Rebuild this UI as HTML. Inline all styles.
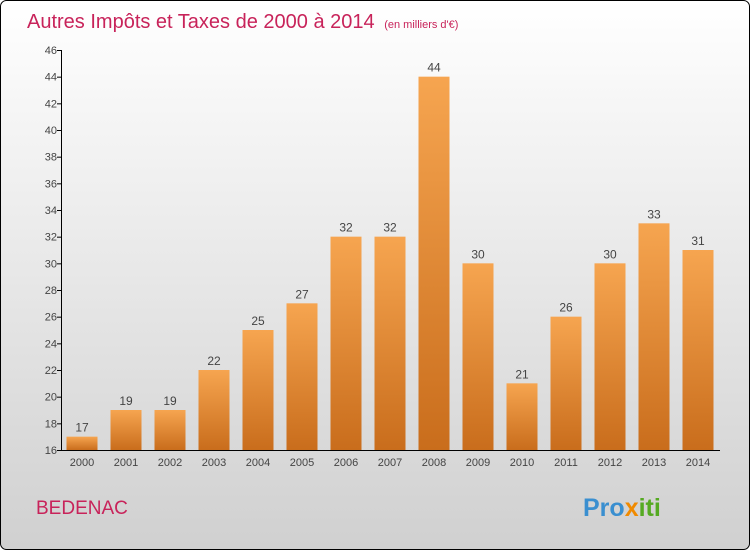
<!DOCTYPE html>
<html><head><meta charset="utf-8"><style>
body{margin:0;width:750px;height:550px;overflow:hidden}
</style></head><body>
<svg width="750" height="550" xmlns="http://www.w3.org/2000/svg" font-family="Liberation Sans, sans-serif">
<defs>
<linearGradient id="bg" x1="0" y1="0" x2="0" y2="1"><stop offset="0" stop-color="#ffffff"/><stop offset="1" stop-color="#d0d0d0"/></linearGradient>
<linearGradient id="bar" x1="0" y1="0" x2="0" y2="1"><stop offset="0" stop-color="#f6a550"/><stop offset="1" stop-color="#c96d1c"/></linearGradient>
</defs>
<rect x="0.5" y="0.5" width="749" height="549" rx="6" fill="url(#bg)" stroke="#000"/>
<text x="27" y="28" font-size="20" fill="#c8235a">Autres Impôts et Taxes de 2000 à 2014 <tspan font-size="11" dx="4">(en milliers d'€)</tspan></text>
<text x="36" y="514" font-size="19" fill="#c8235a">BEDENAC</text>
<text x="583" y="516" font-size="25" font-weight="bold" fill="#3a8fd0">Pro<tspan fill="#f08a00">x</tspan><tspan fill="#55aa22">iti</tspan></text>
<g id="axes"></g>
<g id="bars"></g>
</svg>
<script>
const categories=["2000","2001","2002","2003","2004","2005","2006","2007","2008","2009","2010","2011","2012","2013","2014"];
const values=[17,19,19,22,25,27,32,32,44,30,21,26,30,33,31];
const yTicks=[16,18,20,22,24,26,28,30,32,34,36,38,40,42,44,46];
const NS="http://www.w3.org/2000/svg";
const y0=450,y1=50,vmin=16,vmax=46;
function y(v){return y0-(v-vmin)*(y0-y1)/(vmax-vmin);}
function x(i){return 82+i*44;}
function mk(tag,attrs,parent,txt){const e=document.createElementNS(NS,tag);for(const k in attrs)e.setAttribute(k,attrs[k]);if(txt!==undefined)e.textContent=txt;parent.appendChild(e);return e;}
const ax=document.getElementById('axes'),bg=document.getElementById('bars');
let l=mk('line',{x1:61.5,y1:y1,x2:61.5,y2:y0+0.5,stroke:'#000'},ax);


l=mk('line',{x1:61,y1:y0+0.5,x2:720,y2:y0+0.5,stroke:'#000'},ax);


yTicks.forEach(t=>{
 const tk=mk('line',{x1:57,x2:62,y1:y(t)+0.5,y2:y(t)+0.5,stroke:'#000'},ax);
 
 
 const tl=mk('text',{x:57,y:y(t)+4,'font-size':11,'text-anchor':'end',fill:'#444'},ax,String(t));
 
 
});
categories.forEach((c,i)=>{
 const v=values[i],cx=x(i);
 const r=mk('rect',{x:cx-15.5,y:y(v),width:31,height:y0-y(v),fill:'url(#bar)'},bg);
 
 
 const vl=mk('text',{x:cx,y:y(v)-5,'font-size':12,'text-anchor':'middle',fill:'#444'},bg,String(v));
 
 
 const xl=mk('text',{x:cx,y:466,'font-size':11,'text-anchor':'middle',fill:'#444'},bg,c);
 
 
});
</script>
</body></html>
